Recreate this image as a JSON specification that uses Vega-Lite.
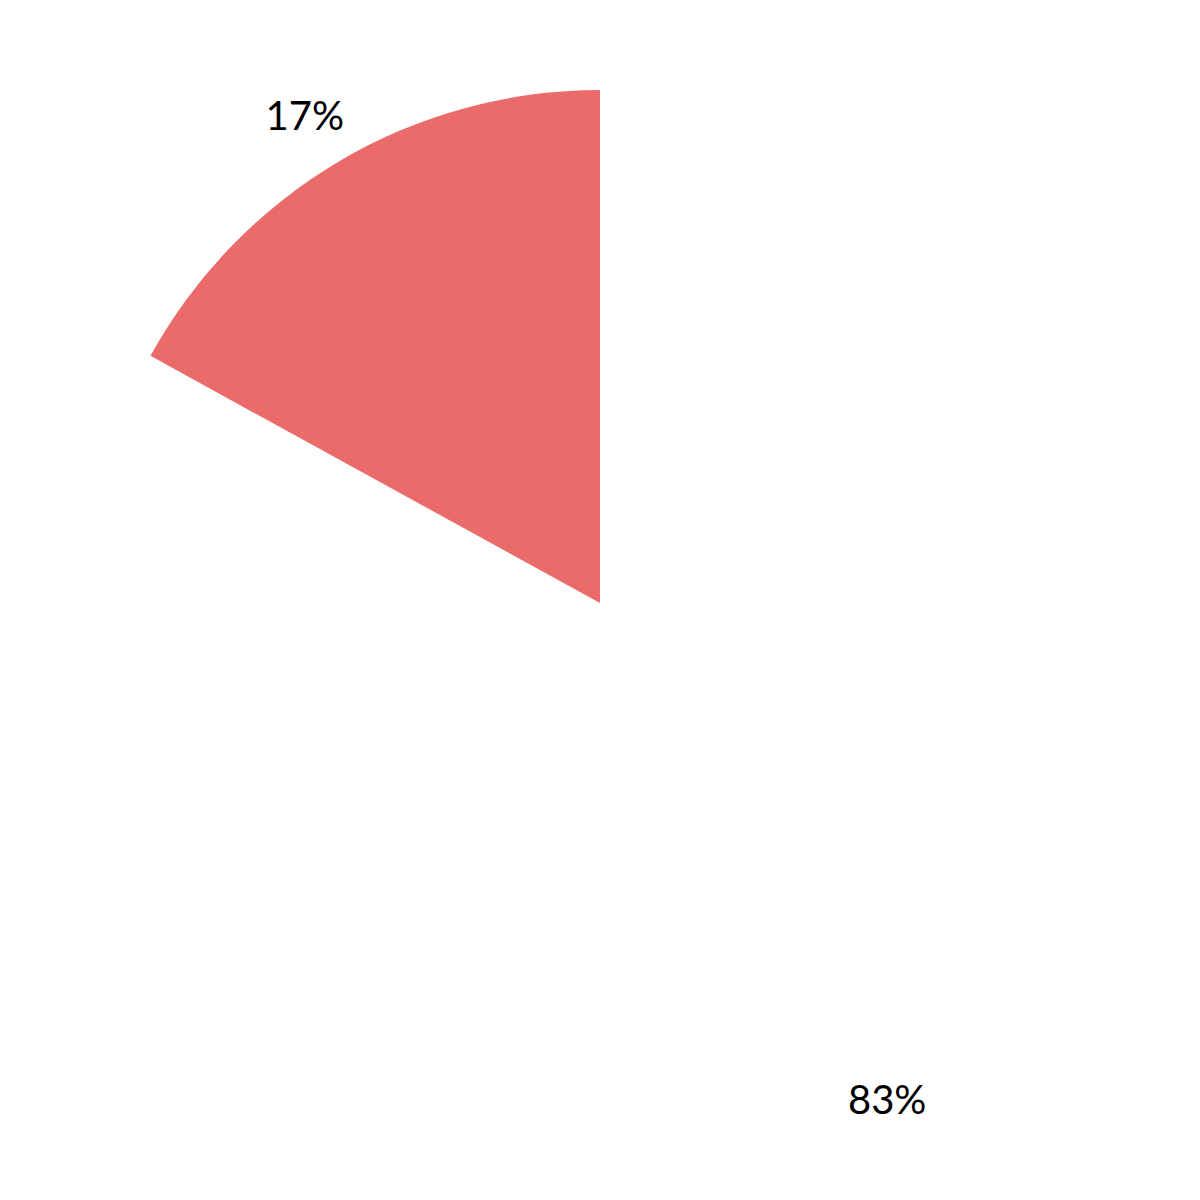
{
  "$schema": "https://vega.github.io/schema/vega-lite/v6.json",
  "width": 1200,
  "height": 1194,
  "padding": {"top": 6, "left": 0, "right": 0, "bottom": 0},
  "autosize": "none",
  "background": "white",
  "data": {
    "values": [
      {"group": "B", "share": 83, "label": "83%", "order": 1},
      {"group": "A", "share": 17, "label": "17%", "order": 2}
    ]
  },
  "encoding": {
    "theta": {"field": "share", "type": "quantitative", "stack": true},
    "order": {"field": "order", "type": "quantitative"}
  },
  "layer": [
    {
      "mark": {"type": "arc", "outerRadius": 513},
      "encoding": {
        "color": {
          "field": "group",
          "type": "nominal",
          "scale": {"domain": ["A", "B"], "range": ["#eb6b6b", "#ffffff"]},
          "legend": null
        }
      }
    },
    {
      "mark": {"type": "text", "radius": 572, "dx": -4, "dy": 7, "fontSize": 40, "font": "Lato", "color": "black", "baseline": "middle", "align": "center"},
      "encoding": {
        "text": {"field": "label", "type": "nominal"}
      }
    }
  ],
  "config": {
    "view": {"stroke": null}
  }
}
